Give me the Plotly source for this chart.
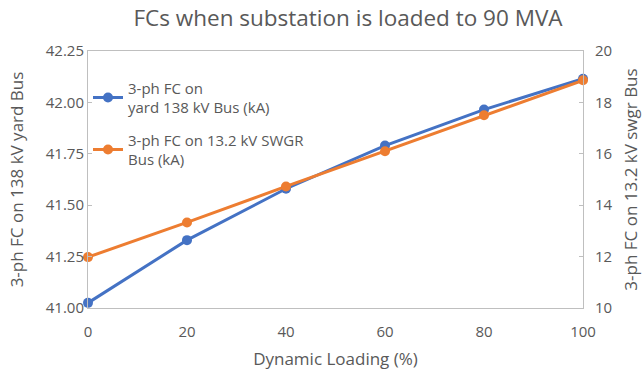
import plotly.graph_objects as go

loading = [0, 20, 40, 60, 80, 100]
fc_138 = [41.025, 41.33, 41.58, 41.79, 41.965, 42.115]
fc_132 = [11.98, 13.33, 14.73, 16.1, 17.5, 18.86]

gray = "#595959"
axcol = "#bfbfbf"
font_fam = "Open Sans, sans-serif"

fig = go.Figure()
fig.add_trace(go.Scatter(
    x=loading, y=fc_138, mode="lines+markers",
    name="3-ph FC on<br>yard 138 kV Bus (kA)", legendgroup="a",
    line=dict(color="#4472C4", width=3),
    marker=dict(color="#4472C4", size=10),
    cliponaxis=False, yaxis="y"))
fig.add_trace(go.Scatter(
    x=loading, y=fc_132, mode="lines+markers",
    name="3-ph FC on 13.2 kV SWGR<br>Bus (kA)", legendgroup="b",
    line=dict(color="#ED7D31", width=3),
    marker=dict(color="#ED7D31", size=10),
    cliponaxis=False, yaxis="y2"))

fig.update_layout(
    width=642, height=371,
    margin=dict(l=88, r=59, t=51, b=63),
    paper_bgcolor="white", plot_bgcolor="white",
    font=dict(family=font_fam, color=gray, size=15),
    title=dict(text="FCs when substation is loaded to 90 MVA",
               x=348 / 642, xanchor="center", y=1 - 18 / 371, yanchor="middle",
               font=dict(size=22.5, color=gray, family=font_fam)),
    xaxis=dict(range=[0, 100], tickvals=loading, showgrid=False,
               showline=True, linecolor=axcol, linewidth=1, mirror=True,
               ticks="", zeroline=False, ticklabelstandoff=10, automargin=False,
               title=dict(text="Dynamic Loading (%)", standoff=13,
                          font=dict(size=17, color=gray)),
               tickfont=dict(size=15, color=gray)),
    yaxis=dict(range=[41, 42.25], dtick=0.25, tickformat=".2f",
               showgrid=False, showline=True, linecolor=axcol, linewidth=1,
               ticks="inside", ticklen=4, tickcolor=axcol, zeroline=False,
               automargin=False,
               title=dict(text="3-ph FC on 138 kV yard Bus", standoff=17,
                          font=dict(size=17, color=gray)),
               tickfont=dict(size=15, color=gray)),
    yaxis2=dict(range=[10, 20], dtick=2, overlaying="y", side="right",
                showgrid=False, showline=True, linecolor=axcol, linewidth=1,
                ticks="inside", ticklen=4, tickcolor=axcol, zeroline=False,
                ticklabelstandoff=8, automargin=False,
                title=dict(text="3-ph FC on 13.2 kV swgr Bus", standoff=15,
                           font=dict(size=17, color=gray)),
                tickfont=dict(size=15, color=gray)),
    legend=dict(x=0, y=0.92, xanchor="left", yanchor="top",
                bgcolor="rgba(0,0,0,0)", font=dict(size=15, color=gray),
                tracegroupgap=10, itemwidth=30, traceorder="grouped"),
    showlegend=True,
)

fig.write_html("out.html")
